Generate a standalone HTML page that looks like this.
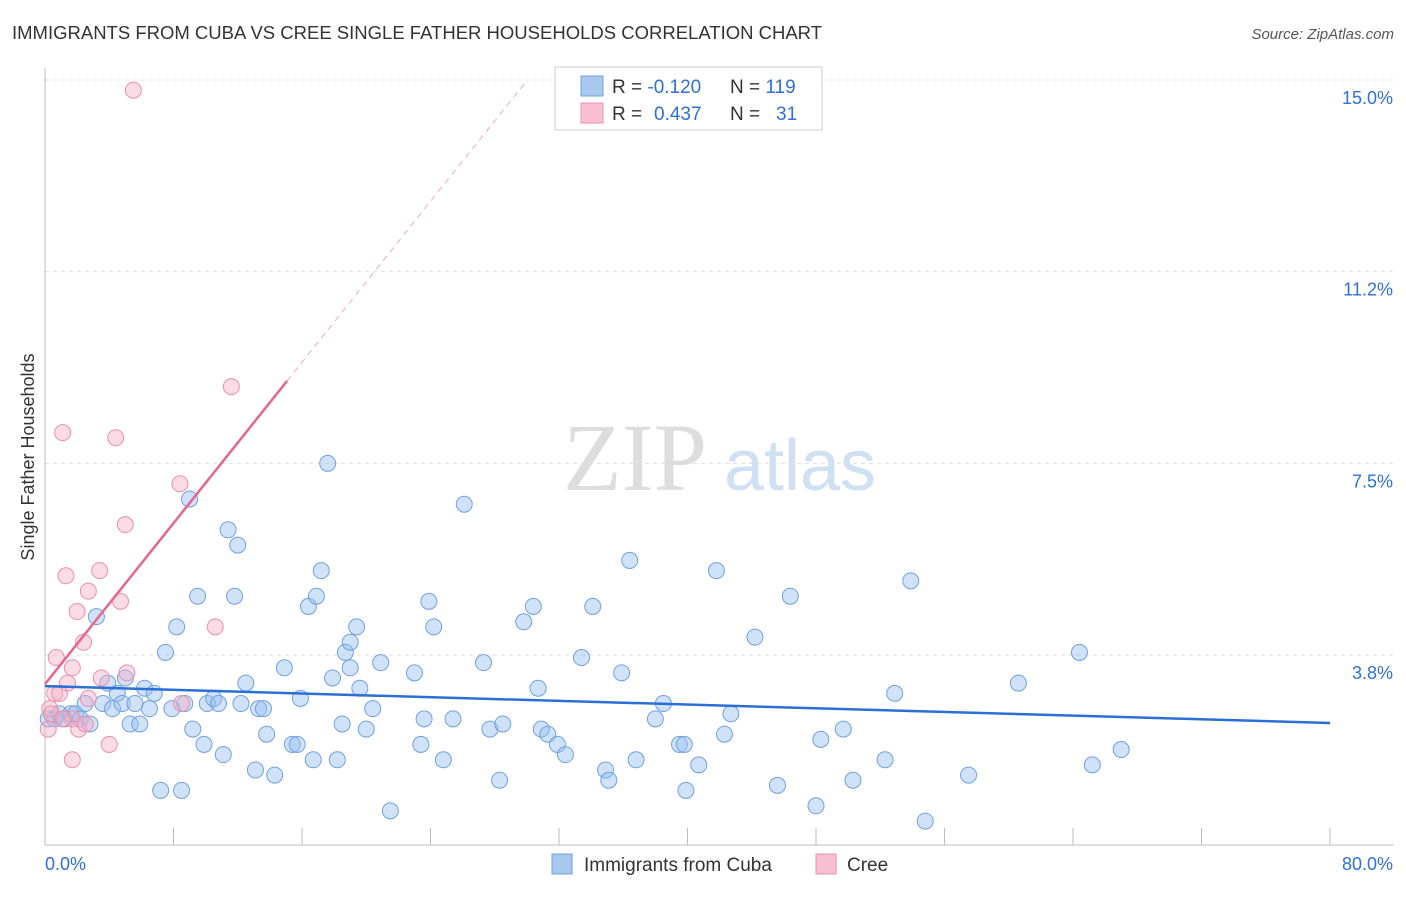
<!DOCTYPE html>
<html><head><meta charset="utf-8"><style>
body{margin:0;background:#fff;font-family:"Liberation Sans",sans-serif;}
</style></head><body>
<svg id="c" width="1406" height="892" xmlns="http://www.w3.org/2000/svg">
<text x="12" y="39" font-size="18.5" fill="#333">IMMIGRANTS FROM CUBA VS CREE SINGLE FATHER HOUSEHOLDS CORRELATION CHART</text>
<text x="1394" y="39" font-size="15" fill="#555" font-style="italic" text-anchor="end">Source: ZipAtlas.com</text>
<text x="34" y="457" font-size="18" fill="#333" text-anchor="middle" transform="rotate(-90 34 457)">Single Father Households</text>
<g><text x="635" y="490" font-size="96" fill="#ddd" font-family="Liberation Serif" text-anchor="middle">ZIP</text><text x="800" y="490" font-size="72" fill="#cfe0f3" text-anchor="middle">atlas</text></g>
<g id="grid"></g><g id="marks"></g>
<g>
<rect x="555" y="67" width="267" height="63" fill="#fff" stroke="#ccc"/>
<rect x="581" y="76" width="22" height="20" fill="#a9c8f0" stroke="#6fa0e0"/>
<rect x="581" y="103" width="22" height="20" fill="#f8c0d2" stroke="#e890ad"/>
<text x="612" y="93" font-size="19" fill="#333">R = <tspan fill="#2f6fd6">-0.120</tspan><tspan x="730">N = </tspan><tspan fill="#2f6fd6">119</tspan></text>
<text x="612" y="120" font-size="19" fill="#333">R = <tspan x="654" fill="#2f6fd6">0.437</tspan><tspan x="730">N = </tspan><tspan x="776" fill="#2f6fd6">31</tspan></text>
</g>
<g>
<rect x="552" y="854" width="20" height="20" fill="#a9c8f0" stroke="#6fa0e0"/>
<text x="584" y="871" font-size="19" fill="#333">Immigrants from Cuba</text>
<rect x="816" y="854" width="20" height="20" fill="#f8c0d2" stroke="#e890ad"/>
<text x="847" y="871" font-size="19" fill="#333">Cree</text>
</g>
</svg>
<script>
const yTicks=[15.0,11.25,7.5,3.75];
const yTickLabels=["15.0%","11.2%","7.5%","3.8%"];
const xTickLabels=["0.0%","80.0%"];
const cubaX=[0.2,0.6,0.9,1.2,1.6,1.9,2.2,2.5,2.8,3.2,3.6,3.9,4.2,4.5,4.8,5.0,5.3,5.6,5.9,6.2,6.5,6.8,7.2,7.5,7.9,8.2,8.5,8.7,9.0,9.2,9.5,9.9,10.1,10.5,10.8,11.1,11.4,11.8,12.0,12.2,12.5,13.1,13.3,13.6,13.8,14.3,14.9,15.4,15.7,15.9,16.4,16.7,16.9,17.2,17.6,17.9,18.2,18.5,18.7,19.0,19.0,19.4,19.6,20.0,20.4,20.9,21.5,23.0,23.4,23.6,23.9,24.2,24.8,25.4,26.1,27.3,27.7,28.3,28.5,29.8,30.4,30.7,30.9,31.3,31.9,32.4,33.4,34.1,34.9,35.1,35.9,36.4,36.8,38.0,38.5,39.5,39.8,39.9,40.7,41.8,42.3,42.7,44.2,45.6,46.4,48.0,48.3,49.7,50.3,52.3,52.9,53.9,54.8,57.5,60.6,64.4,65.2,67.0];
const cubaY=[2.5,2.5,2.6,2.5,2.6,2.6,2.5,2.8,2.4,4.5,2.8,3.2,2.7,3.0,2.8,3.3,2.4,2.8,2.4,3.1,2.7,3.0,1.1,3.8,2.7,4.3,1.1,2.8,6.8,2.3,4.9,2.0,2.8,2.9,2.8,1.8,6.2,4.9,5.9,2.8,3.2,1.5,2.7,2.7,2.2,1.4,3.5,2.0,2.0,2.9,4.7,1.7,4.9,5.4,7.5,3.3,1.7,2.4,3.8,3.5,4.0,4.3,3.1,2.3,2.7,3.6,0.7,3.4,2.0,2.5,4.8,4.3,1.7,2.5,6.7,3.6,2.3,1.3,2.4,4.4,4.7,3.1,2.3,2.2,2.0,1.8,3.7,4.7,1.5,1.3,3.4,5.6,1.7,2.5,2.8,2.0,2.0,1.1,1.6,5.4,2.2,2.6,4.1,1.2,4.9,0.8,2.1,2.3,1.3,1.7,3.0,5.2,0.5,1.4,3.2,3.8,1.6,1.9];
const creeX=[5.5,11.6,1.1,4.4,8.4,5.0,3.4,1.3,2.7,4.7,2.0,10.6,2.4,0.7,1.7,3.5,5.1,1.4,0.6,0.9,2.7,8.5,0.3,0.4,1.7,2.1,4.0,1.7,0.2,2.5,1.1];
const creeY=[14.8,9.0,8.1,8.0,7.1,6.3,5.4,5.3,5.0,4.8,4.6,4.3,4.0,3.7,3.5,3.3,3.4,3.2,3.0,3.0,2.9,2.8,2.7,2.6,2.5,2.3,2.0,1.7,2.3,2.4,2.5];
const cubaTrend=[3.14,2.42];   // y at x=0 and x=80
const creeTrend=[3.18,0.3936]; // intercept, slope
const X=v=>45+v/80*1285, Y=v=>80+(15-v)*51.11;
const NS="http://www.w3.org/2000/svg";
const svg=document.getElementById('c'),grid=document.getElementById('grid'),marks=document.getElementById('marks');
function mk(t,a,p){const e=document.createElementNS(NS,t);for(const k in a)e.setAttribute(k,a[k]);(p||svg).appendChild(e);return e;}
yTicks.forEach((t,i)=>{
 const g=mk('line',{x1:45,x2:1394,y1:Y(t),y2:Y(t),stroke:'#ddd','stroke-dasharray':'4,4'},grid);
 
 
 const l=mk('text',{x:1393,y:Y(t)+24,'font-size':18,fill:'#2f6fd6','text-anchor':'end'});l.textContent=yTickLabels[i];
 
 
});
const ax=mk('line',{x1:45,x2:45,y1:68,y2:845,stroke:'#bbb'},grid);


const bx=mk('line',{x1:45,x2:1394,y1:845,y2:845,stroke:'#bbb'},grid);


for(let i=0;i<=10;i++){const t=mk('line',{x1:X(i*8),x2:X(i*8),y1:828,y2:845,stroke:'#bbb'},grid);
 
 }
[[0,'start',45],[80,'end',1393]].forEach((d,i)=>{const t=mk('text',{x:d[2],y:870,'font-size':18,fill:'#2f6fd6','text-anchor':d[1]});t.textContent=xTickLabels[i];
 
 });
cubaX.forEach((x,i)=>{const c=mk('circle',{cx:X(x),cy:Y(cubaY[i]),r:8,fill:'rgba(150,190,240,0.45)',stroke:'#6fa0e0','stroke-width':1},marks);
 
 });
creeX.forEach((x,i)=>{const c=mk('circle',{cx:X(x),cy:Y(creeY[i]),r:8,fill:'rgba(245,175,200,0.45)',stroke:'#e890ad','stroke-width':1},marks);
 
 });
const bl=mk('line',{x1:X(0),y1:Y(cubaTrend[0]),x2:X(80),y2:Y(cubaTrend[1]),stroke:'#2a6fd6','stroke-width':2.5},marks);


const xe=15.07, xd=(15-creeTrend[0])/creeTrend[1];
const pl=mk('line',{x1:X(0),y1:Y(creeTrend[0]),x2:X(xe),y2:Y(creeTrend[0]+creeTrend[1]*xe),stroke:'#e8648f','stroke-width':2.5},marks);


const pd=mk('line',{x1:X(xe),y1:Y(creeTrend[0]+creeTrend[1]*xe),x2:X(xd),y2:Y(15),stroke:'#f0a8c0','stroke-width':1,'stroke-dasharray':'6,5'},marks);


</script>
</body></html>
